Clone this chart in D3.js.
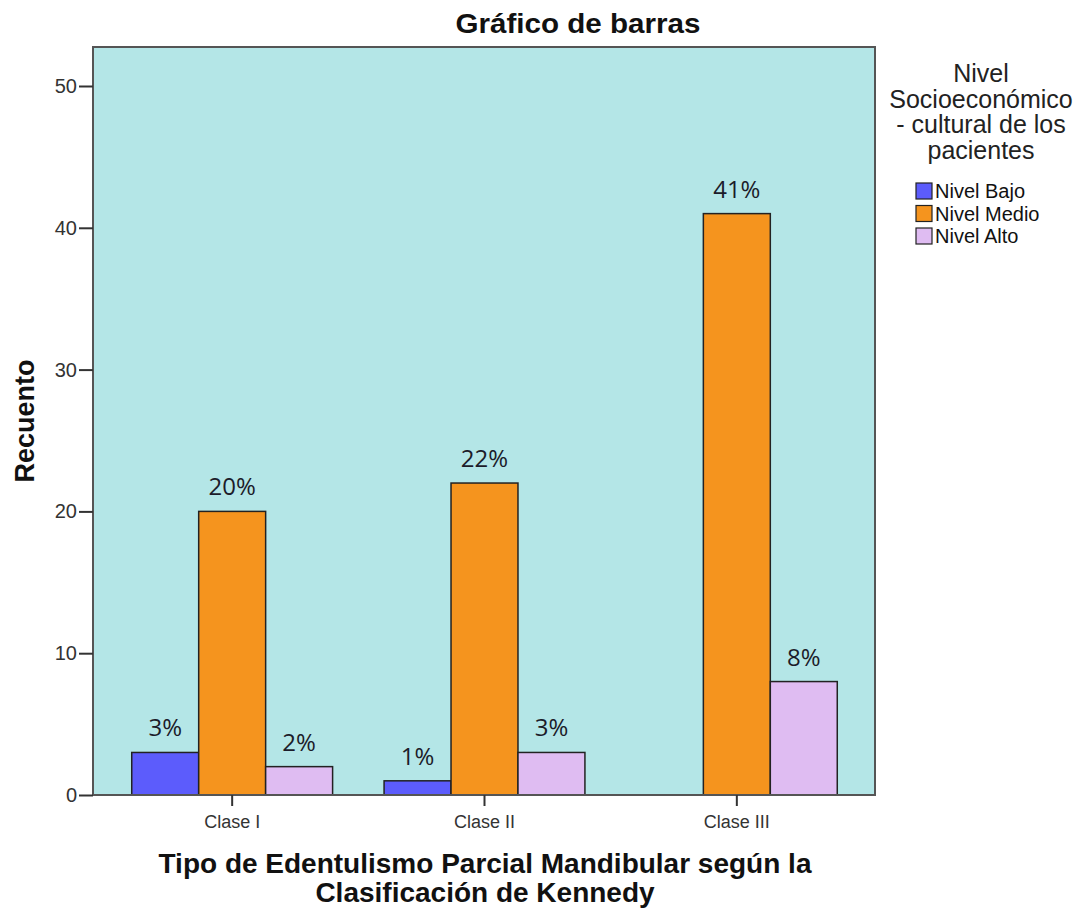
<!DOCTYPE html>
<html>
<head>
<meta charset="utf-8">
<script src="https://cdn.jsdelivr.net/npm/d3@7"></script>
<style>
  body { margin: 0; background: #fff; }
  text { font-family: "Liberation Sans", Arial, sans-serif; }
</style>
</head>
<body>
<div id="chart"></div>
<script>
// data
const categories = ['Clase I', 'Clase II', 'Clase III'];
const seriesNames = ['Nivel Bajo', 'Nivel Medio', 'Nivel Alto'];
const nivelBajo = [3, 1, 0];
const nivelMedio = [20, 22, 41];
const nivelAlto = [2, 3, 8];
const labelsBajo = ['3%', '1%', ''];
const labelsMedio = ['20%', '22%', '41%'];
const labelsAlto = ['2%', '3%', '8%'];
const yTicks = [0, 10, 20, 30, 40, 50];
const legendTitle = ['Nivel', 'Socioeconómico', '- cultural de los', 'pacientes'];
const colors = ['#5c5cfc', '#f5941e', '#dfbcf2'];

const W = 1078, H = 912;
const plot = {left: 93, right: 875, top: 47, bottom: 795};

const svg = d3.select('#chart').append('svg')
  .attr('width', W).attr('height', H);

const x0 = d3.scaleBand().domain(categories)
  .range([106, 863]).paddingInner(0.204).paddingOuter(0.102);
const x1 = d3.scaleBand().domain(seriesNames).range([0, x0.bandwidth()]);
const y = d3.scaleLinear().domain([0, 52.75]).range([plot.bottom, plot.top]);

// plot background
svg.append('rect')
  .attr('x', plot.left).attr('y', plot.top)
  .attr('width', plot.right - plot.left).attr('height', plot.bottom - plot.top)
  .attr('fill', '#b4e6e7');

const rows = categories.map((c, i) => ({
  cat: c,
  vals: [nivelBajo[i], nivelMedio[i], nivelAlto[i]],
  labels: [labelsBajo[i], labelsMedio[i], labelsAlto[i]]
}));

const groups = svg.selectAll('.grp').data(rows).enter().append('g')
  .attr('class', 'grp')
  .attr('transform', d => `translate(${x0(d.cat)},0)`);

groups.selectAll('rect')
  .data(d => d.vals.map((v, j) => ({v, s: seriesNames[j], j})).filter(d => d.v > 0))
  .enter().append('rect')
  .attr('x', d => x1(d.s))
  .attr('y', d => y(d.v))
  .attr('width', x1.bandwidth())
  .attr('height', d => y(0) - y(d.v))
  .attr('fill', d => colors[d.j])
  .attr('stroke', '#222')
  .attr('stroke-width', 1.5);

groups.selectAll('.lbl')
  .data(d => d.vals.map((v, j) => ({v, s: seriesNames[j], t: d.labels[j]})).filter(d => d.t))
  .enter().append('text')
  .attr('class', 'lbl')
  .attr('x', d => x1(d.s) + x1.bandwidth() / 2)
  .attr('y', d => y(d.v) - 16)
  .attr('text-anchor', 'middle')
  .style('font-family', '"Open Sans", sans-serif')
  .style('font-size', '24px')
  .attr('fill', '#1c1c2a')
  .text(d => d.t);

// frame
svg.append('rect')
  .attr('x', plot.left).attr('y', plot.top)
  .attr('width', plot.right - plot.left).attr('height', plot.bottom - plot.top)
  .attr('fill', 'none').attr('stroke', '#555').attr('stroke-width', 2);

// y axis
const yAxis = svg.append('g')
  .attr('transform', `translate(${plot.left},0)`)
  .call(d3.axisLeft(y).tickValues(yTicks).tickSize(14).tickPadding(2));
yAxis.select('.domain').remove();
yAxis.selectAll('line').attr('stroke', '#333').attr('stroke-width', 2);
yAxis.selectAll('text').style('font-size', '20px').attr('fill', '#333');

// x axis
const xAxis = svg.append('g')
  .attr('transform', `translate(0,${plot.bottom})`)
  .call(d3.axisBottom(x0).tickSize(11).tickPadding(9));
xAxis.select('.domain').remove();
xAxis.selectAll('line').attr('stroke', '#333').attr('stroke-width', 2);
xAxis.selectAll('text').style('font-size', '18px').attr('fill', '#333');

// titles
svg.append('text')
  .attr('x', 578).attr('y', 33)
  .attr('text-anchor', 'middle')
  .attr('textLength', 245).attr('lengthAdjust', 'spacingAndGlyphs')
  .style('font-size', '27px').style('font-weight', 'bold')
  .attr('fill', '#111')
  .text('Gráfico de barras');

svg.append('text')
  .attr('transform', 'translate(34,421) rotate(-90)')
  .attr('text-anchor', 'middle')
  .style('font-size', '27px').style('font-weight', 'bold')
  .attr('fill', '#111')
  .text('Recuento');

const xt = svg.append('text')
  .attr('text-anchor', 'middle')
  .style('font-size', '28px').style('font-weight', 'bold')
  .attr('fill', '#111');
xt.append('tspan').attr('x', 485).attr('y', 873).text('Tipo de Edentulismo Parcial Mandibular según la');
xt.append('tspan').attr('x', 485).attr('y', 902).text('Clasificación de Kennedy');

// legend
const lg = svg.append('g');
lg.selectAll('.lt').data(legendTitle).enter().append('text')
  .attr('class', 'lt')
  .attr('x', 981)
  .attr('y', (d, i) => 82 + i * 25.5)
  .attr('text-anchor', 'middle')
  .style('font-size', '25px')
  .attr('fill', '#222')
  .text(d => d);

const items = lg.selectAll('.li').data(seriesNames).enter().append('g')
  .attr('class', 'li')
  .attr('transform', (d, i) => `translate(916,${183 + i * 22.5})`);
items.append('rect')
  .attr('width', 16).attr('height', 16)
  .attr('fill', (d, i) => colors[i])
  .attr('stroke', '#222').attr('stroke-width', 1.2);
items.append('text')
  .attr('x', 19).attr('y', 15)
  .style('font-size', '20px')
  .attr('fill', '#111')
  .text(d => d);
</script>
</body>
</html>
